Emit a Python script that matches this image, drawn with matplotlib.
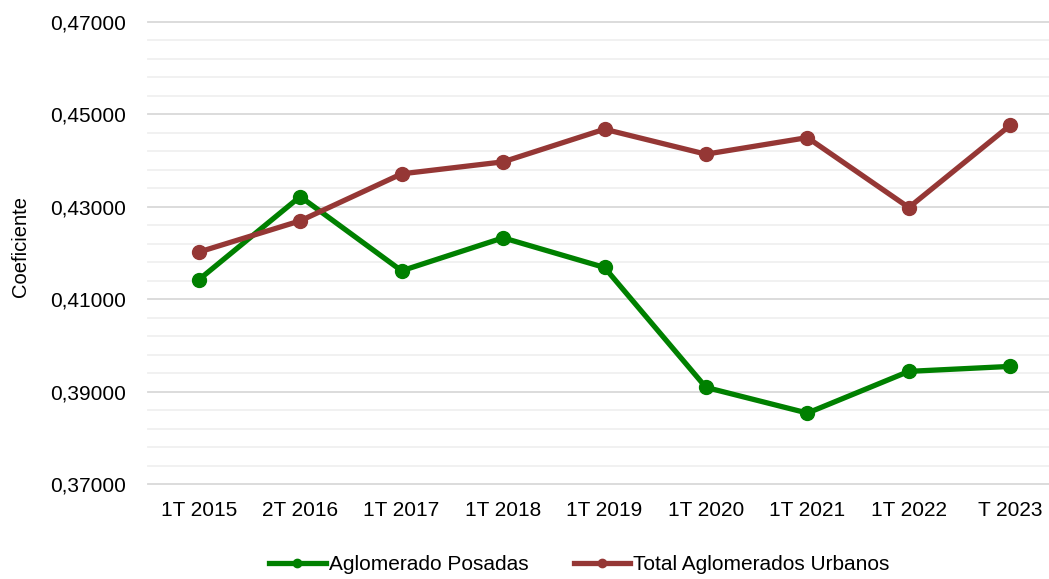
import matplotlib
matplotlib.use("Agg")
import matplotlib.pyplot as plt
import numpy as np
from matplotlib.ticker import FixedLocator, FuncFormatter

plt.rcParams['font.family'] = ['Liberation Sans', 'DejaVu Sans']

categories = ["1T 2015", "2T 2016", "1T 2017", "1T 2018", "1T 2019",
              "1T 2020", "1T 2021", "1T 2022", "T 2023"]
posadas = [0.41421, 0.43220, 0.41615, 0.42328, 0.41687,
           0.39095, 0.38540, 0.39441, 0.39549]
total = [0.42020, 0.42695, 0.43711, 0.43970, 0.44676,
         0.44136, 0.44495, 0.42983, 0.44762]
major_ticks = [0.37, 0.39, 0.41, 0.43, 0.45, 0.47]

green = "#008000"
red = "#953735"

fig = plt.figure(figsize=(10.49, 5.79), dpi=100)
W, H = 1049, 579
left, right = 148, 1061
top, bottom = 21.7, 484.3
ax = fig.add_axes([left / W, 1 - bottom / H, (right - left) / W, (bottom - top) / H])

x = list(range(len(categories)))
ax.plot(x, posadas, color=green, lw=3.8, marker='o', ms=10, label="Aglomerado Posadas",
        solid_joinstyle='round', zorder=3, clip_on=False)
ax.plot(x, total, color=red, lw=3.8, marker='o', ms=10, label="Total Aglomerados Urbanos",
        solid_joinstyle='round', zorder=3, clip_on=False)

ax.set_xlim(-0.5, len(categories) - 0.5)
ax.set_ylim(0.37, 0.47)
minor = [round(0.37 + 0.004 * i, 4) for i in range(26) if i % 5 != 0]
ax.yaxis.set_major_locator(FixedLocator(major_ticks))
ax.yaxis.set_minor_locator(FixedLocator(minor))
ax.yaxis.set_major_formatter(FuncFormatter(lambda v, p: f"{v:.5f}".replace('.', ',')))
for v in major_ticks:
    ax.axhline(v, color='#d9d9d9', lw=1.3, zorder=1, clip_on=False)
for v in minor:
    ax.axhline(v, color='#f0f0f0', lw=1.3, zorder=0.5, clip_on=False)
for s in ax.spines.values():
    s.set_visible(False)
ax.tick_params(axis='both', which='both', length=0, labelsize=15, colors='#000000')
ax.tick_params(axis='y', pad=16)
ax.tick_params(axis='x', pad=12)
ax.set_xticks(x)
ax.set_xticklabels(categories)
ax.set_ylabel("Coeficiente", fontsize=14.5)
ax.yaxis.set_label_coords(-118 / (right - left), 0.515)

leg = fig.legend(loc='center', bbox_to_anchor=(0.5525, 1 - 565 / H), ncol=2, frameon=False,
                 fontsize=15, handlelength=2.7, handletextpad=0.15, columnspacing=2.2,
                 markerscale=0.6)

fig.savefig("out.png", dpi=100)
